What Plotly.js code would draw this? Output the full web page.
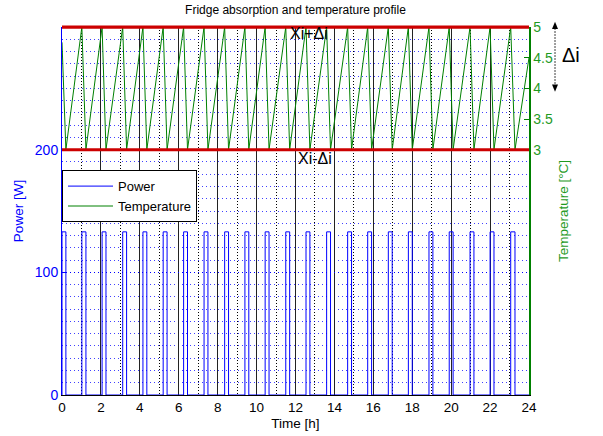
<!DOCTYPE html>
<html>
<head>
<meta charset="utf-8">
<script src="https://cdn.plot.ly/plotly-3.0.1.min.js"></script>
<style>
html,body{margin:0;padding:0;background:#fff;}
#chart{width:603px;height:436px;}
</style>
</head>
<body>
<div id="chart"></div>
<script>
// ---- data ----
const chartTitle = 'Fridge absorption and temperature profile';
const xTickVals = [0, 2, 4, 6, 8, 10, 12, 14, 16, 18, 20, 22, 24];
const powerTickVals = [0, 100, 200];
const tempTickVals = [3, 3.5, 4, 4.5, 5];
const tempTickText = ['3', '3.5', '4', '4.5', '5'];

// compressor power pulses [h] and level [W]
const pulseOn  = [0, 1.02, 2.06, 3.12, 4.16, 5.2, 6.25, 7.3, 8.36, 9.4, 10.44, 11.5, 12.54, 13.6, 14.68, 15.71, 16.77, 17.8, 18.86, 19.9, 20.97, 22.0, 23.06];
const pulseOff = [0.2, 1.23, 2.26, 3.32, 4.36, 5.4, 6.45, 7.5, 8.56, 9.6, 10.64, 11.7, 12.74, 13.8, 14.88, 15.91, 16.97, 18.0, 19.06, 20.1, 21.17, 22.2, 23.28];
const pulseLevel = 133;

// temperature profile [h], [°C]
const tempTime  = [0, 0.2, 1.02, 1.23, 2.06, 2.26, 3.12, 3.32, 4.16, 4.36, 5.2, 5.4, 6.25, 6.45, 7.3, 7.5, 8.36, 8.56, 9.4, 9.6, 10.44, 10.64, 11.5, 11.7, 12.54, 12.74, 13.6, 13.8, 14.68, 14.88, 15.71, 15.91, 16.77, 16.97, 17.8, 18.0, 18.86, 19.06, 19.9, 20.1, 20.97, 21.17, 22.0, 22.2, 23.06, 23.28, 24];
const tempValue = [4.75, 3, 5, 3, 5, 3, 5, 3, 5, 3, 5, 3, 5, 3, 5, 3, 5, 3, 5, 3, 5, 3, 5, 3, 5, 3, 5, 3, 5, 3, 5, 3, 5, 3, 5, 3, 5, 3, 5, 3, 5, 3, 5, 3, 5, 3, 4.5];

// band limits (Xi-Δi, Xi+Δi) in °C
const bandLimits = [3, 5];

// ---- build step trace for power ----
const powerTime = [], powerValue = [];
for (let i = 0; i < pulseOn.length; i++) {
  powerTime.push(pulseOn[i], pulseOn[i], pulseOff[i], pulseOff[i]);
  powerValue.push(0, pulseLevel, pulseLevel, 0);
}
powerTime.push(24); powerValue.push(0);

const FONT = 'Liberation Sans, Arial, sans-serif';
const BLUE = '#0000ff';
const GREEN = '#008000';
const TGREEN = '#1f9a1f';
const RED = '#cc0000';

const traces = [
  {x: powerTime, y: powerValue, type: 'scatter', mode: 'lines', name: 'Power',
   line: {color: BLUE, width: 1}, yaxis: 'y'},
  {x: tempTime, y: tempValue, type: 'scatter', mode: 'lines', name: 'Temperature',
   line: {color: GREEN, width: 1}, yaxis: 'y2'}
];

const shapes = bandLimits.map(v => ({
  type: 'line', xref: 'x', yref: 'y2', x0: 0, x1: 24, y0: v, y1: v,
  line: {color: RED, width: 3}, layer: 'above'
}));
// top edge of the axes box in the band colour (keeps the upper limit line full width, unclipped)
shapes.push({type: 'line', xref: 'paper', yref: 'paper', x0: 0, x1: 1, y0: 1, y1: 1,
  line: {color: RED, width: 3}, layer: 'above'});
// Δi double arrow (dotted)
shapes.push({type: 'line', xref: 'paper', yref: 'paper', x0: 1.0557, x1: 1.0557, y0: 0.838, y1: 1.0,
  line: {color: '#000', width: 1.5, dash: '1px,2px'}});
shapes.push({type: 'path', xref: 'paper', yref: 'paper',
  path: 'M 1.0557 1.0144 L 1.0493 0.9946 L 1.0621 0.9946 Z', fillcolor: '#000', line: {width: 0}});
shapes.push({type: 'path', xref: 'paper', yref: 'paper',
  path: 'M 1.0557 0.8242 L 1.0493 0.8440 L 1.0621 0.8440 Z', fillcolor: '#000', line: {width: 0}});

const annotations = [
  {text: 'Xi+Δi', xref: 'x', yref: 'y2', x: 12.69, y: 4.886, showarrow: false,
   xanchor: 'center', yanchor: 'middle', font: {family: FONT, size: 16, color: '#000'}},
  {text: 'Xi-Δi', xref: 'x', yref: 'y2', x: 12.98, y: 2.854, showarrow: false,
   xanchor: 'center', yanchor: 'middle', font: {family: FONT, size: 16, color: '#000'}},
  {text: 'Δi', xref: 'paper', yref: 'paper', x: 1.091, y: 0.9226, showarrow: false,
   xanchor: 'center', yanchor: 'middle', font: {family: FONT, size: 20, color: '#000'}}
];

const layout = {
  width: 603, height: 436,
  margin: {l: 62, r: 74, t: 27, b: 41, pad: 0},
  paper_bgcolor: '#fff', plot_bgcolor: '#fff',
  font: {family: FONT, size: 13, color: '#000'},
  title: {text: chartTitle, font: {family: FONT, size: 12, color: '#000'},
          x: 0.49, xref: 'container', xanchor: 'center', y: 0.977, yref: 'container', yanchor: 'middle'},
  showlegend: true,
  legend: {x: 0, y: 0.611, xanchor: 'left', yanchor: 'top', bgcolor: '#fff',
           bordercolor: '#000', borderwidth: 1, font: {family: FONT, size: 13, color: '#000'},
           itemwidth: 45, tracegroupgap: 0},
  xaxis: {range: [0, 24], tickvals: xTickVals, ticks: '', showline: true, linecolor: '#000', linewidth: 1,
          showgrid: true, gridcolor: '#222', gridwidth: 1, zeroline: false,
          minor: {dtick: 1, showgrid: true, gridcolor: '#000', griddash: '1px,2px', gridwidth: 1},
          tickfont: {family: FONT, size: 13.5, color: '#000'},
          title: {text: 'Time [h]', font: {family: FONT, size: 13.5, color: '#000'}, standoff: 4}},
  yaxis: {range: [0, 300], tickvals: powerTickVals, ticks: 'inside', ticklen: 5, tickcolor: BLUE,
          showline: true, linecolor: BLUE, linewidth: 1, zeroline: false,
          showgrid: true, gridcolor: BLUE, griddash: '1px,3px', gridwidth: 1,
          minor: {dtick: 10, showgrid: true, gridcolor: 'rgba(0,0,255,0.75)', griddash: '1px,3px', gridwidth: 1},
          tickfont: {family: FONT, size: 14, color: BLUE},
          title: {text: 'Power [W]', font: {family: FONT, size: 13.5, color: BLUE}, standoff: 8}},
  yaxis2: {range: [-1, 5], overlaying: 'y', side: 'right', tickvals: tempTickVals, ticktext: tempTickText,
           ticks: 'inside', ticklen: 5, tickcolor: GREEN, showline: true, linecolor: GREEN, linewidth: 1.5,
           showgrid: false, zeroline: false,
           tickfont: {family: FONT, size: 14, color: TGREEN},
           title: {text: 'Temperature [°C]', font: {family: FONT, size: 13.5, color: TGREEN}, standoff: 6}},
  shapes: shapes,
  annotations: annotations
};

Plotly.newPlot('chart', traces, layout, {displayModeBar: false, staticPlot: true});
</script>
</body>
</html>
